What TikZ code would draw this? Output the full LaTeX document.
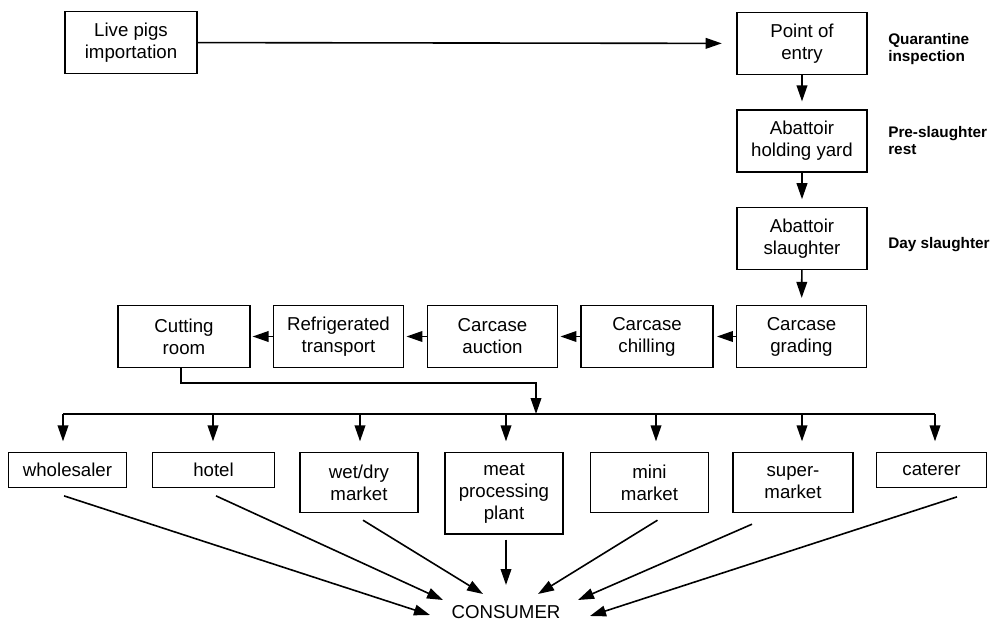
\documentclass[tikz,border=0pt]{standalone}
\usepackage{fontspec}
\setmainfont{Liberation Sans}
\usetikzlibrary{arrows.meta}

\begin{document}
\begin{tikzpicture}[x=0.75pt,y=-0.75pt]
   \tikzstyle{stage}=[draw,line width=0.9pt,align=center,inner sep=0pt,font=\fontsize{14}{16.5}\selectfont]
   \tikzstyle{outlet}=[stage,anchor=north]
   \tikzstyle{note}=[anchor=west,align=left,inner sep=0pt,font=\bfseries\fontsize{11.5}{12.75}\selectfont]
   \tikzstyle{flow}=[line width=1.2pt,-{Triangle[length=12pt,width=8pt]}]
   \useasboundingbox (0,0) rectangle (990,621);

   % import and abattoir
   \node (live) [stage,minimum width=99pt,minimum height=46pt] at (131,42.5) {Live pigs\\importation} ;
   \node (entry) [stage,minimum width=97.5pt,minimum height=46pt] at (802,43.5) {Point of\\entry} ;
   \node (hold) [stage,minimum width=97.5pt,minimum height=46.5pt] at (802,141) {Abattoir\\holding yard} ;
   \node (kill) [stage,minimum width=97.5pt,minimum height=46pt] at (802,238.5) {Abattoir\\slaughter} ;
   \node (n1) [note] at (888,49) {Quarantine\\inspection} ;
   \node (n2) [note] at (888,141) {Pre-slaughter\\rest} ;
   \node (n3) [note] at (888,244.5) {Day slaughter} ;

   % carcase line
   \node (grade) [stage,minimum width=98pt,minimum height=47pt] at (801.5,336.5) {Carcase\\grading} ;
   \node (chill) [stage,minimum width=99pt,minimum height=47pt] at (647,336.5) {Carcase\\chilling} ;
   \node (auct) [stage,minimum width=98pt,minimum height=47pt] at (492.5,336.5) {Carcase\\auction} ;
   \node (truck) [stage,minimum width=98pt,minimum height=47pt] at (338.5,336.5) {Refrigerated\\transport} ;
   \node (cut) [stage,minimum width=99pt,minimum height=47pt] at (184,336.5) {Cutting\\room} ;

   % outlets
   \node (whole) [outlet,minimum width=89pt,minimum height=26pt] at (67.5,452) {wholesaler} ;
   \node (hotel) [outlet,minimum width=91pt,minimum height=26pt] at (213.5,452) {hotel} ;
   \node (wet) [outlet,minimum width=88.5pt,minimum height=45pt] at (359,452) {wet/dry\\market} ;
   \node (meat) [outlet,minimum width=88.5pt,minimum height=61pt] at (504,452) {meat\\processing\\plant} ;
   \node (mini) [outlet,minimum width=89pt,minimum height=45pt] at (649.5,452) {mini\\market} ;
   \node (super) [outlet,minimum width=90pt,minimum height=45pt] at (793,452) {super-\\market} ;
   \node (cater) [outlet,minimum width=83pt,minimum height=26pt] at (931.5,452) {caterer} ;
   \node (cons) [inner sep=0pt,font=\fontsize{14}{16.5}\selectfont] at (506,612) {CONSUMER} ;

   \coordinate (turn) at (536,383) ;
   \coordinate (bus) at (536,414) ;

   \draw [flow,shorten >=11pt] (live) -- (entry) ;
   \draw [flow,shorten >=6pt] (entry) -- (hold) ;
   \draw [flow,shorten >=6pt] (hold) -- (kill) ;
   \draw [flow,shorten >=5pt] (kill) -- (grade) ;
   \draw [flow,shorten >=2.5pt] (grade) -- (chill) ;
   \draw [flow,shorten >=1.5pt] (chill) -- (auct) ;
   \draw [flow,shorten >=1.5pt] (auct) -- (truck) ;
   \draw [flow,shorten >=1.5pt] (truck) -- (cut) ;
   \draw [flow] (cut.south -| 181,0) |- (turn) -- (bus) ;
   \draw [line width=1.2pt] (bus -| 63,0) -- (bus -| 935,0) ;
   \foreach \o/\x in {whole/63,hotel/213,wet/360,meat/506,mini/656,super/802,cater/935}
      \draw [flow,shorten >=8pt] (bus -| \x,0) -- (\o.north -| \x,0) ;

   \draw [flow] ([shift={(-3.5,8)}]whole.south) -- ([shift={(-76,3)}]cons.center) ;
   \draw [flow] ([shift={(2.5,8)}]hotel.south) -- ([shift={(-63,-12)}]cons.center) ;
   \draw [flow] ([shift={(4,7)}]wet.south) -- ([shift={(-23,-18)}]cons.center) ;
   \draw [flow] ([shift={(2,5)}]meat.south) -- ([shift={(0,-27)}]cons.center) ;
   \draw [flow] ([shift={(8,7)}]mini.south) -- ([shift={(32,-18)}]cons.center) ;
   \draw [flow] ([shift={(-41,11)}]super.south) -- ([shift={(72,-12)}]cons.center) ;
   \draw [flow] ([shift={(25.5,9)}]cater.south) -- ([shift={(84,4)}]cons.center) ;
\end{tikzpicture}
\end{document}
